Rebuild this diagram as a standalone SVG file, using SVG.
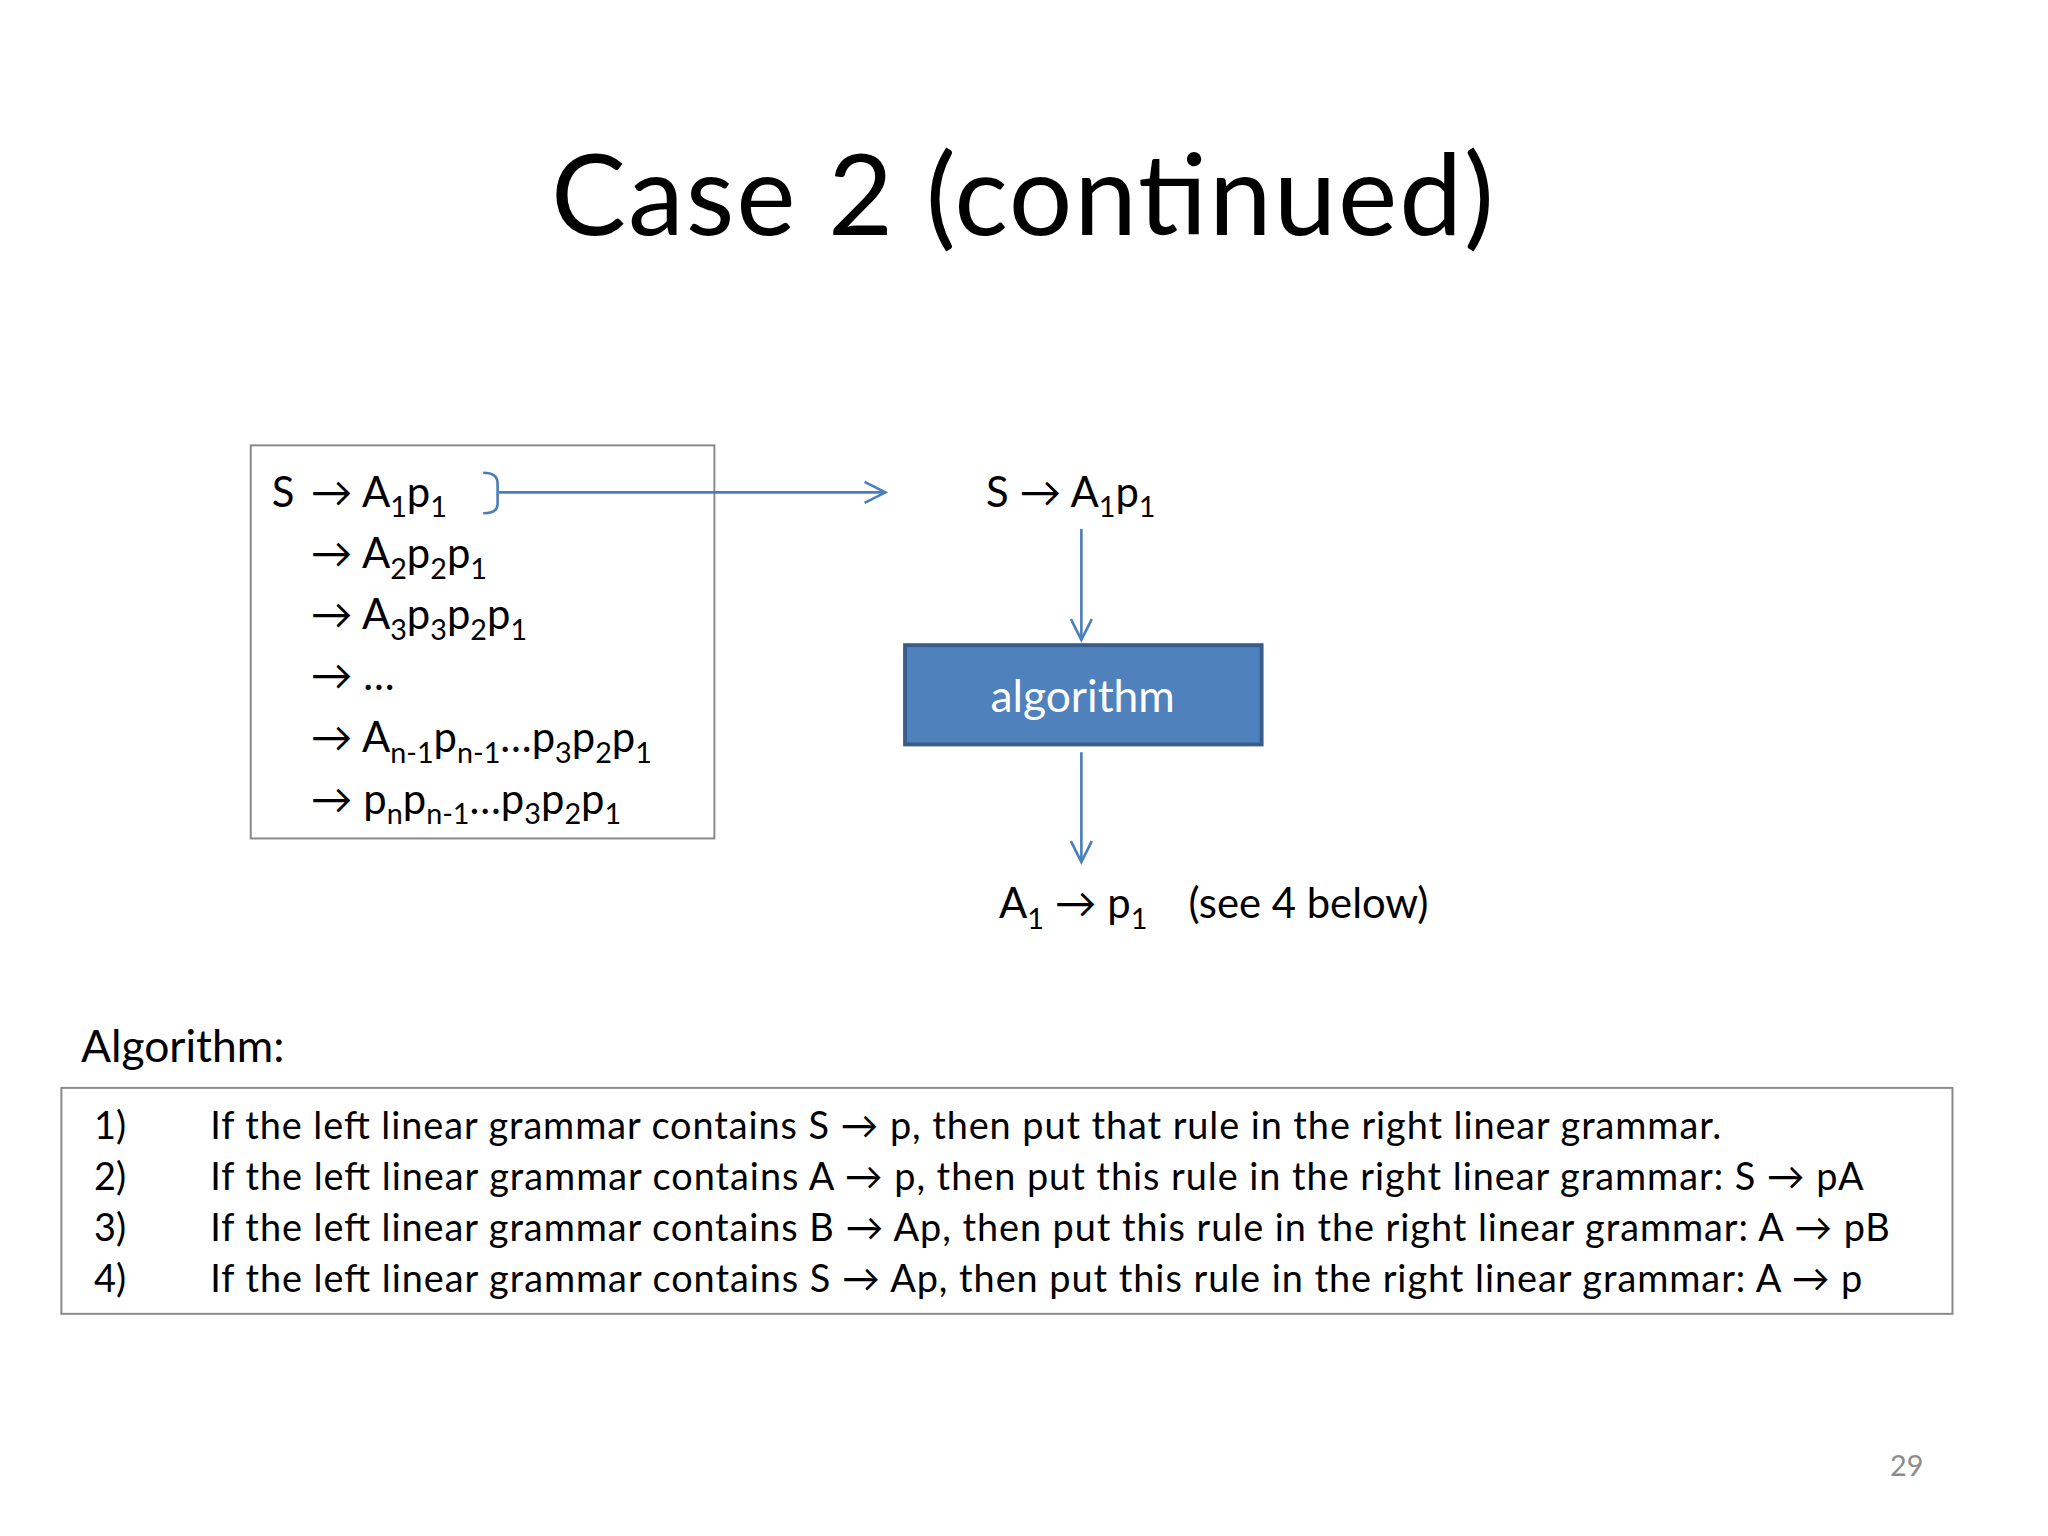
<svg xmlns="http://www.w3.org/2000/svg" width="2048" height="1536" viewBox="0 0 2048 1536">
<defs>
<style>
text{font-family:Lato,"Open Sans","Liberation Sans",sans-serif;fill:#000}
.m{font-size:32px}
.s{font-size:22px}
.a{font-size:29px}
.conn{stroke:#4A7EBB;stroke-width:2;fill:none}
</style>
<marker id="ah" viewBox="0 0 20 20" refX="18" refY="10" markerWidth="20" markerHeight="20" markerUnits="userSpaceOnUse" orient="auto">
<path d="M2,2 L18,10 L2,18" fill="none" stroke="#4A7EBB" stroke-width="2"/>
</marker>
</defs>
<rect width="2048" height="1536" fill="#fff"/>
<g transform="scale(1.306)">
<text x="783" y="180" font-size="86" text-anchor="middle" textLength="722">Case 2 (continued)</text>
<g id="derivation">
<rect x="192" y="341" width="355" height="301" fill="none" stroke="#888" stroke-width="1.5"/>
<text class="m" x="208" y="388">S</text>
<text class="m" x="238" y="388">→ A<tspan class="s" dy="8">1</tspan><tspan dy="-8">p</tspan><tspan class="s" dy="8">1</tspan></text>
<text class="m" x="238" y="435">→ A<tspan class="s" dy="8">2</tspan><tspan dy="-8">p</tspan><tspan class="s" dy="8">2</tspan><tspan dy="-8">p</tspan><tspan class="s" dy="8">1</tspan></text>
<text class="m" x="238" y="482">→ A<tspan class="s" dy="8">3</tspan><tspan dy="-8">p</tspan><tspan class="s" dy="8">3</tspan><tspan dy="-8">p</tspan><tspan class="s" dy="8">2</tspan><tspan dy="-8">p</tspan><tspan class="s" dy="8">1</tspan></text>
<text class="m" x="238" y="528">→ …</text>
<text class="m" x="238" y="576">→ A<tspan class="s" dy="8">n-1</tspan><tspan dy="-8">p</tspan><tspan class="s" dy="8">n-1</tspan><tspan dy="-8">…p</tspan><tspan class="s" dy="8">3</tspan><tspan dy="-8">p</tspan><tspan class="s" dy="8">2</tspan><tspan dy="-8">p</tspan><tspan class="s" dy="8">1</tspan></text>
<text class="m" x="238" y="623">→ p<tspan class="s" dy="8">n</tspan><tspan dy="-8">p</tspan><tspan class="s" dy="8">n-1</tspan><tspan dy="-8">…p</tspan><tspan class="s" dy="8">3</tspan><tspan dy="-8">p</tspan><tspan class="s" dy="8">2</tspan><tspan dy="-8">p</tspan><tspan class="s" dy="8">1</tspan></text>
</g>
<g id="rule-top">
<text class="m" x="755" y="388">S → A<tspan class="s" dy="8">1</tspan><tspan dy="-8">p</tspan><tspan class="s" dy="8">1</tspan></text>
</g>
<g id="algorithm-box">
<rect x="693" y="494" width="273" height="76" fill="#4F81BD" stroke="#385D8A" stroke-width="3"/>
<text x="829" y="545" font-size="34" text-anchor="middle" style="fill:#fff">algorithm</text>
</g>
<g id="rule-bottom">
<text class="m" x="765" y="703">A<tspan class="s" dy="8">1</tspan><tspan dy="-8"> → p</tspan><tspan class="s" dy="8">1</tspan><tspan dy="-8" x="910">(see 4 below)</tspan></text>
</g>
<g id="connectors">
<path class="conn" d="M370,362 Q381,362 381,370 L381,386 Q381,393 370,393"/>
<path class="conn" d="M382,377 L678,377" marker-end="url(#ah)"/>
<path class="conn" d="M828,405 L828,490" marker-end="url(#ah)"/>
<path class="conn" d="M828,576 L828,660" marker-end="url(#ah)"/>
</g>
<g id="algorithm-list">
<text x="62" y="813" font-size="34">Algorithm:</text>
<rect x="47" y="833" width="1448" height="173" fill="none" stroke="#888" stroke-width="1.5"/>
<text class="a" x="72" y="872">1)</text>
<text class="a" x="72" y="911">2)</text>
<text class="a" x="72" y="950">3)</text>
<text class="a" x="72" y="989">4)</text>
<text class="a" x="161" y="872" textLength="1157">If the left linear grammar contains S → p, then put that rule in the right linear grammar.</text>
<text class="a" x="161" y="911" textLength="1266">If the left linear grammar contains A → p, then put this rule in the right linear grammar: S → pA</text>
<text class="a" x="161" y="950" textLength="1286">If the left linear grammar contains B → Ap, then put this rule in the right linear grammar: A → pB</text>
<text class="a" x="161" y="989" textLength="1265">If the left linear grammar contains S → Ap, then put this rule in the right linear grammar: A → p</text>
</g>
<text x="1460" y="1130" font-size="22" text-anchor="middle" style="fill:#8c8c8c">29</text>
</g>
</svg>
